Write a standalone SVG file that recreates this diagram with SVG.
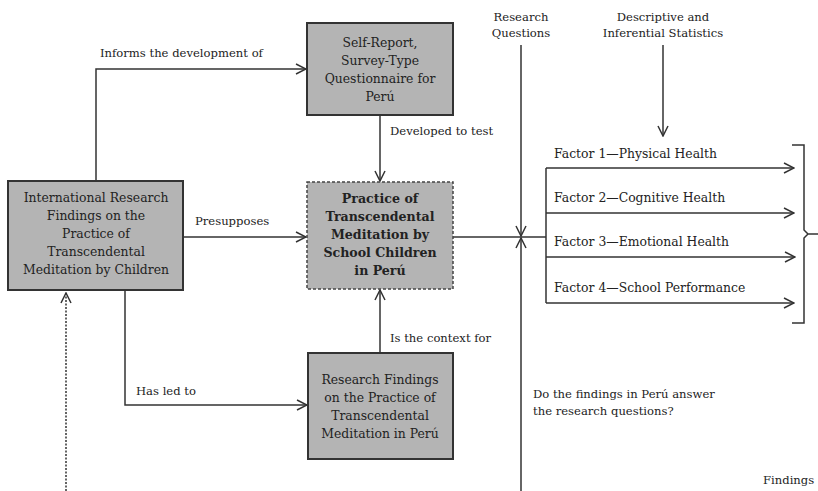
<svg xmlns="http://www.w3.org/2000/svg" width="818" height="491" viewBox="0 0 818 491">
<style>
text{font-family:"DejaVu Serif","Liberation Serif",serif;font-size:11.6px;fill:#222}
.c{text-anchor:middle}
.t{font-size:12.4px}
.b{font-weight:bold;font-size:12.6px}
.box{fill:#b4b4b4;stroke:#333;stroke-width:2}
.dash{fill:#b4b4b4;stroke:#444;stroke-width:1.5;stroke-dasharray:3 2}
.ln{fill:none;stroke:#333;stroke-width:1.5}
</style>
<defs>
<marker id="ar" viewBox="0 0 12 12" refX="11" refY="6" markerWidth="12" markerHeight="12" markerUnits="userSpaceOnUse" orient="auto">
<path d="M1,1 L11,6 L1,11" fill="none" stroke="#333" stroke-width="1.5"/>
</marker>
</defs>
<rect width="818" height="491" fill="#fff"/>
<g id="connectors">
<path class="ln" d="M96,181 V69 H306" marker-end="url(#ar)"/>
<path class="ln" d="M183,237 H306" marker-end="url(#ar)"/>
<path class="ln" d="M380,115 V181" marker-end="url(#ar)"/>
<path class="ln" d="M380,353 V290" marker-end="url(#ar)"/>
<path class="ln" d="M125,290 V405 H307" marker-end="url(#ar)"/>
<path class="ln" d="M66,491 V293" stroke-dasharray="2 1.5" marker-end="url(#ar)"/>
<path class="ln" d="M453,237 H546"/>
<path class="ln" d="M521,45 V236" marker-end="url(#ar)"/>
<path class="ln" d="M521,491 V238" marker-end="url(#ar)"/>
<path class="ln" d="M663,45 V136" marker-end="url(#ar)"/>
<path class="ln" d="M546,168 V303"/>
<path class="ln" d="M546,168 H794" marker-end="url(#ar)"/>
<path class="ln" d="M546,213 H794" marker-end="url(#ar)"/>
<path class="ln" d="M546,257 H795" marker-end="url(#ar)"/>
<path class="ln" d="M546,303 H794" marker-end="url(#ar)"/>
<path class="ln" d="M792,145 H804 V230 L808,234 H818 M808,234 L804,238 V323 H792"/>
<text x="100" y="57">Informs the development of</text>
<text x="195" y="225">Presupposes</text>
<text x="390" y="135">Developed to test</text>
<text x="390" y="342">Is the context for</text>
<text x="136" y="395">Has led to</text>
</g>
<g id="international">
<rect class="box" x="8" y="181" width="175" height="109"/>
<text class="c t" x="96" y="202">International Research</text>
<text class="c t" x="96" y="220">Findings on the</text>
<text class="c t" x="96" y="238">Practice of</text>
<text class="c t" x="96" y="256">Transcendental</text>
<text class="c t" x="96" y="274">Meditation by Children</text>
</g>
<g id="selfreport">
<rect class="box" x="307" y="23" width="146" height="92"/>
<text class="c t" x="380" y="47">Self-Report,</text>
<text class="c t" x="380" y="65">Survey-Type</text>
<text class="c t" x="380" y="83">Questionnaire for</text>
<text class="c t" x="380" y="101">Perú</text>
</g>
<g id="practice">
<rect class="dash" x="307" y="182" width="146" height="107"/>
<text class="c b" x="380" y="203">Practice of</text>
<text class="c b" x="380" y="221">Transcendental</text>
<text class="c b" x="380" y="239">Meditation by</text>
<text class="c b" x="380" y="257">School Children</text>
<text class="c b" x="380" y="275">in Perú</text>
</g>
<g id="perufindings">
<rect class="box" x="308" y="353" width="145" height="106"/>
<text class="c t" x="380" y="384">Research Findings</text>
<text class="c t" x="380" y="402">on the Practice of</text>
<text class="c t" x="380" y="420">Transcendental</text>
<text class="c t" x="380" y="438">Meditation in Perú</text>
</g>
<g id="questions">
<text class="c" x="521" y="21">Research</text>
<text class="c" x="521" y="37">Questions</text>
</g>
<g id="statistics">
<text class="c" x="663" y="21">Descriptive and</text>
<text class="c" x="663" y="37">Inferential Statistics</text>
</g>
<g id="factors">
<text class="t" x="554" y="158">Factor 1—Physical Health</text>
<text class="t" x="554" y="202">Factor 2—Cognitive Health</text>
<text class="t" x="554" y="246">Factor 3—Emotional Health</text>
<text class="t" x="554" y="292">Factor 4—School Performance</text>
</g>
<g id="question">
<text x="533" y="398">Do the findings in Perú answer</text>
<text x="533" y="415">the research questions?</text>
</g>
<g id="findings">
<text x="763" y="484">Findings</text>
</g>
</svg>
